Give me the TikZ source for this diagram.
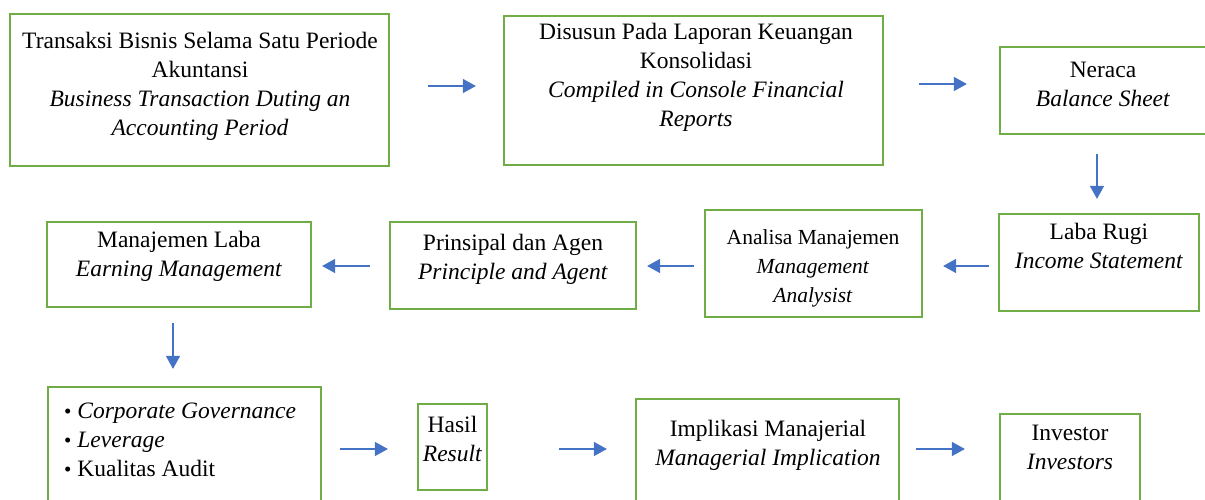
\documentclass[tikz,border=0pt]{standalone}
\usepackage{fontspec}
\setmainfont{Liberation Serif}
\usetikzlibrary{arrows.meta}
\definecolor{boxgreen}{HTML}{70AD47}
\definecolor{arrblue}{HTML}{4472C4}
\newcommand{\bul}{{\fontsize{21}{29}\selectfont\textbullet}\ }
\tikzset{
  box/.style={draw=boxgreen, line width=2.2pt, inner sep=0pt, fill=white},
  txt/.style={align=center, inner sep=0pt, font=\fontsize{23.5}{29}\selectfont},
  arr/.style={draw=arrblue, line width=1.3pt, -{Triangle[length=13pt,width=14pt]}},
}
\begin{document}
\begin{tikzpicture}[x=1pt,y=-1pt]
\useasboundingbox (0,0) rectangle (1205,499);
% boxes
\node[box, minimum width=379pt, minimum height=152pt] (b1) at (199.5,90) {};
\node[box, minimum width=379pt, minimum height=149pt] (b2) at (693.5,90.5) {};
\node[box, minimum width=214pt, minimum height=87pt] (b3) at (1107,90.5) {};
\node[box, minimum width=200pt, minimum height=97pt] (b4) at (1099,262.5) {};
\node[box, minimum width=217pt, minimum height=107pt] (b5) at (813.5,263.5) {};
\node[box, minimum width=246pt, minimum height=87pt] (b6) at (513,265.5) {};
\node[box, minimum width=264pt, minimum height=85pt] (b7) at (179,264.5) {};
\node[box, minimum width=273pt, minimum height=123pt] (b8) at (184.5,448.5) {};
\node[box, minimum width=69pt, minimum height=86pt] (b9) at (452.5,447) {};
\node[box, minimum width=263pt, minimum height=111pt] (b10) at (767.5,454.5) {};
\node[box, minimum width=140pt, minimum height=96pt] (b11) at (1070,462) {};
% texts
\node[txt] (t1) at (200,86) {Transaksi Bisnis Selama Satu Periode\\Akuntansi\\\textit{Business Transaction Duting an}\\\textit{Accounting Period}};
\node[txt] (t2) at (696,77.5) {Disusun Pada Laporan Keuangan\\Konsolidasi\\\textit{Compiled in Console Financial}\\\textit{Reports}};
\node[txt] (t3) at (1103,84.5) {Neraca\\\textit{Balance Sheet}};
\node[txt] (t4) at (1099,245.5) {Laba Rugi\\\textit{Income Statement}};
\node[txt, font=\fontsize{21.5}{29}\selectfont] (t5) at (813,268) {Analisa Manajemen\\\textit{Management}\\\textit{Analysist}};
\node[txt] (t6) at (513,259.5) {Prinsipal dan Agen\\\textit{Principle and Agent}};
\node[txt] (t7) at (179,256.5) {Manajemen Laba\\\textit{Earning Management}};
\node[txt, align=left, anchor=west] (t8) at (64,440) {\bul\textit{Corporate Governance}\\\bul\textit{Leverage}\\\bul Kualitas Audit};
\node[txt] (t9) at (452.5,438.5) {Hasil\\\textit{Result}};
\node[txt] (t10) at (768,445.5) {Implikasi Manajerial\\\textit{Managerial Implication}};
\node[txt] (t11) at (1070,447) {Investor\\\textit{Investors}};
% arrows
\draw[arr] ([xshift=38pt]b1.east |- 0,86) -- ([xshift=-27pt]b2.west |- 0,86);
\draw[arr] ([xshift=35pt]b2.east |- 0,84) -- ([xshift=-32pt]b3.west |- 0,84);
\draw[arr] ([yshift=-19pt]b3.south -| 1097,0) -- ([yshift=14pt]b4.north -| 1097,0);
\draw[arr] ([xshift=-9pt]b4.west |- 0,266) -- ([xshift=20pt]b5.east |- 0,266);
\draw[arr] ([xshift=-10pt]b5.west |- 0,266) -- ([xshift=10pt]b6.east |- 0,266);
\draw[arr] ([xshift=-19pt]b6.west |- 0,266) -- ([xshift=10pt]b7.east |- 0,266);
\draw[arr] ([yshift=-15pt]b7.south -| 173,0) -- ([yshift=17pt]b8.north -| 173,0);
\draw[arr] ([xshift=18pt]b8.east |- 0,449) -- ([xshift=-29pt]b9.west |- 0,449);
\draw[arr] ([xshift=71pt]b9.east |- 0,449) -- ([xshift=-28pt]b10.west |- 0,449);
\draw[arr] ([xshift=16pt]b10.east |- 0,449) -- ([xshift=-34pt]b11.west |- 0,449);
\end{tikzpicture}
\end{document}
